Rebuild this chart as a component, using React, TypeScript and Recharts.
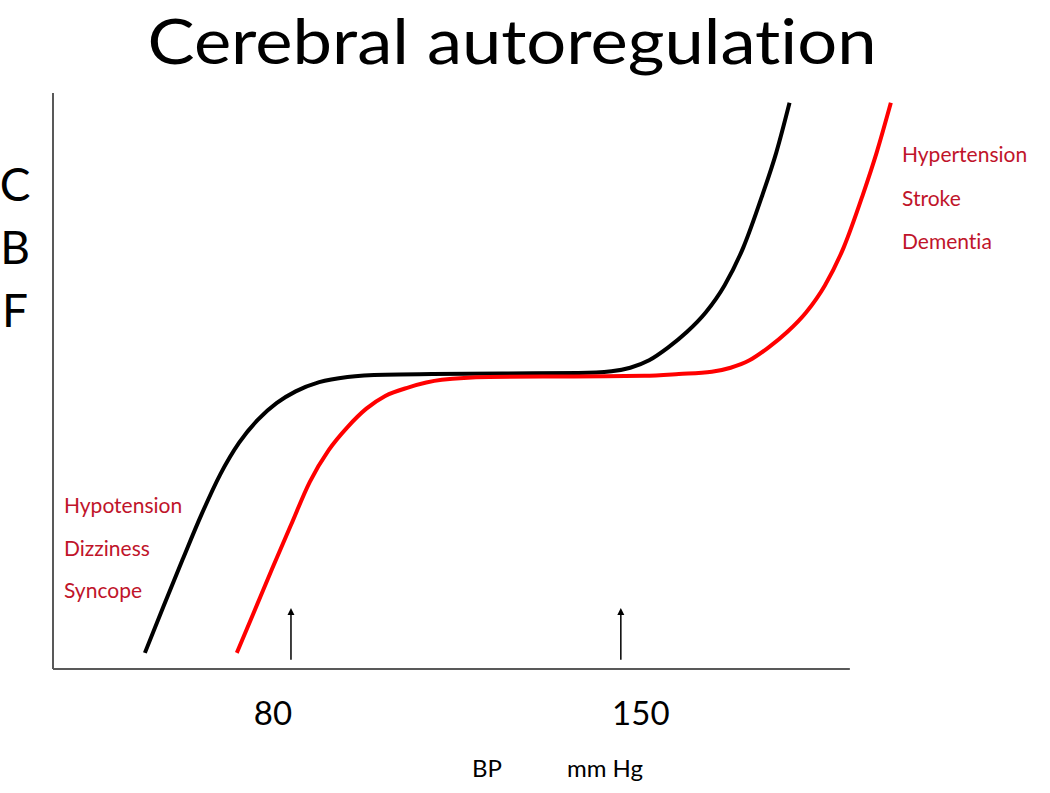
import React from "react";
import { LineChart, Line, XAxis, YAxis, ReferenceLine } from "recharts";

// blood pressure (mmHg) vs cerebral blood flow (arbitrary units, 0-100)
const normalBp = [49, 53, 57, 61, 65, 69, 73, 77, 81, 86, 92, 100, 110, 125, 141, 148, 152, 156, 160, 164, 168, 172, 176, 180, 183, 185.8];
const normalCbf = [2.8, 11.0, 19.0, 26.8, 33.8, 39.3, 43.3, 46.2, 48.2, 49.8, 50.7, 51.1, 51.2, 51.3, 51.4, 51.7, 52.3, 53.6, 55.8, 58.5, 61.9, 66.6, 73.2, 82.2, 89.7, 98.3];

const shiftedBp = [68.5, 72, 76, 80, 84, 88, 92, 96, 100, 105, 112, 122, 140, 155, 162.3, 169.3, 173.3, 177.3, 181.3, 185.3, 189.3, 193.3, 197.3, 201.3, 204.3, 207.3];
const shiftedCbf = [2.8, 9.6, 17.4, 25.0, 32.5, 38.0, 42.0, 45.2, 47.4, 48.9, 50.2, 50.7, 50.8, 50.9, 51.2, 51.6, 52.3, 53.6, 55.8, 58.5, 61.9, 66.6, 73.2, 82.2, 89.7, 98.3];

const xTicks = [80, 150];
const lowLabels = ["Hypotension", "Dizziness", "Syncope"];
const highLabels = ["Hypertension", "Stroke", "Dementia"];
const yLetters = ["C", "B", "F"];

const X_MIN = 29.5;
const X_AXIS_END = 198.6;
const X_MAX = 212;
const ARROW_LOW = 1.6;
const ARROW_HIGH = 10.6;

const normalData = normalBp.map((bp, i) => ({ bp, cbf: normalCbf[i] }));
const shiftedData = shiftedBp.map((bp, i) => ({ bp, cbf: shiftedCbf[i] }));

const FONT = "Lato, 'Open Sans', sans-serif";
const RED_TEXT = "#C0142A";
const noLig = { fontVariantLigatures: "none" as const };

const Arrow = (props: any) => {
  const { x1, y1, x2, y2 } = props;
  return (
    <g>
      <line x1={x1} y1={y1} x2={x2} y2={y2 + 3} stroke="#000" strokeWidth={1.5} />
      <path d={`M${x2 - 3.5},${y2 + 7} L${x2},${y2} L${x2 + 3.5},${y2 + 7} Z`} fill="#000" />
    </g>
  );
};

const BpTick = (props: any) => {
  const { x, y, payload } = props;
  const dx = payload.value === 80 ? -18 : 20;
  return (
    <text x={x + dx} y={y + 48} textAnchor="middle" fontFamily={FONT} fontSize={33} fill="#000">
      {payload.value}
    </text>
  );
};

export default function App() {
  return (
    <div style={{ position: "absolute", left: 0, top: 0, width: 1050, height: 793, background: "#fff" }}>
      <LineChart width={1050} height={793} margin={{ top: 93, left: 53, right: 137, bottom: 94 }}>
        <XAxis
          dataKey="bp"
          type="number"
          domain={[X_MIN, X_MAX]}
          ticks={xTicks}
          axisLine={false}
          tickLine={false}
          height={30}
          tick={<BpTick />}
          allowDataOverflow
        />
        <YAxis type="number" domain={[0, 100]} hide allowDataOverflow />
        <ReferenceLine
          segment={[{ x: X_MIN, y: 0 }, { x: X_AXIS_END, y: 0 }]}
          stroke="#595959"
          strokeWidth={2}
          ifOverflow="visible"
        />
        <ReferenceLine
          segment={[{ x: X_MIN, y: 0 }, { x: X_MIN, y: 100 }]}
          stroke="#595959"
          strokeWidth={2}
          ifOverflow="visible"
        />
        {xTicks.map((t) => (
          <ReferenceLine
            key={t}
            segment={[{ x: t, y: ARROW_LOW }, { x: t, y: ARROW_HIGH }]}
            shape={<Arrow />}
            ifOverflow="visible"
          />
        ))}
        <Line
          data={normalData}
          dataKey="cbf"
          type="monotone"
          stroke="#000"
          strokeWidth={4}
          dot={false}
          isAnimationActive={false}
        />
        <Line
          data={shiftedData}
          dataKey="cbf"
          type="monotone"
          stroke="#FF0000"
          strokeWidth={4}
          dot={false}
          isAnimationActive={false}
        />
      </LineChart>
      <svg
        width={1050}
        height={793}
        style={{ position: "absolute", left: 0, top: 0, pointerEvents: "none" }}
      >
        <text x={512} y={64} textAnchor="middle" fontFamily={FONT} fontSize={62} textLength={729} lengthAdjust="spacingAndGlyphs" fill="#000" style={noLig}>
          Cerebral autoregulation
        </text>
        {yLetters.map((l, i) => (
          <text key={l} x={15} y={201 + i * 63} textAnchor="middle" fontFamily={FONT} fontSize={46} fill="#000">
            {l}
          </text>
        ))}
        {lowLabels.map((l, i) => (
          <text key={l} x={64} y={513 + i * 42.5} fontFamily={FONT} fontSize={21} fill={RED_TEXT} style={noLig}>
            {l}
          </text>
        ))}
        {highLabels.map((l, i) => (
          <text key={l} x={902} y={162 + i * 43.5} fontFamily={FONT} fontSize={21} fill={RED_TEXT} style={noLig}>
            {l}
          </text>
        ))}
        <text x={472} y={777} fontFamily={FONT} fontSize={24} fill="#000">BP</text>
        <text x={567} y={777} fontFamily={FONT} fontSize={24} fill="#000">mm Hg</text>
      </svg>
    </div>
  );
}
